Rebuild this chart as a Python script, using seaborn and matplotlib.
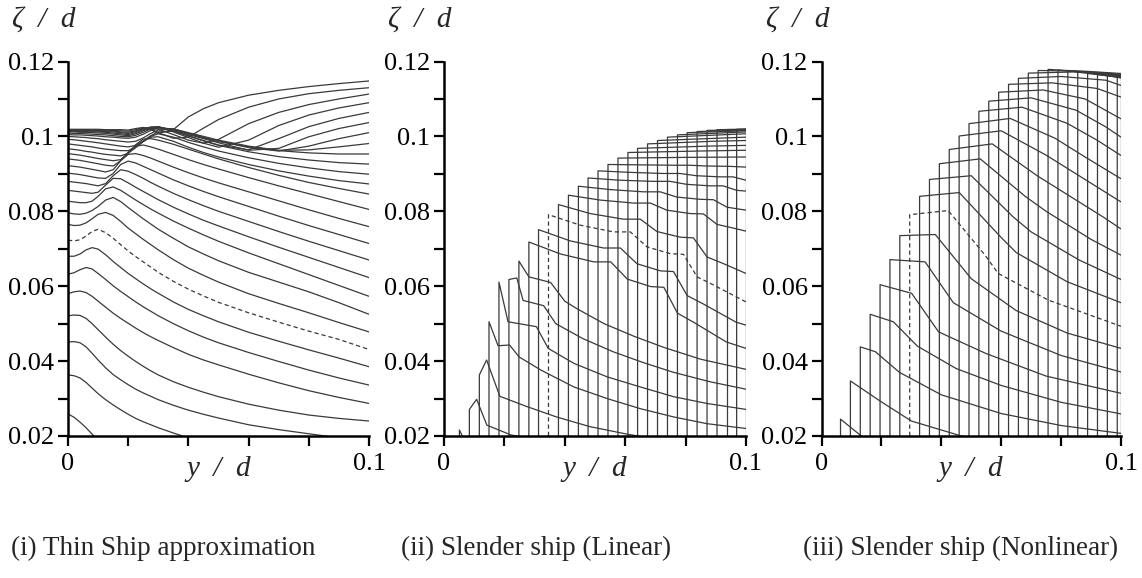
import numpy as np
import pandas as pd
import matplotlib
matplotlib.use("Agg")
import matplotlib.pyplot as plt
import seaborn as sns
from matplotlib.ticker import MultipleLocator, FixedLocator, FuncFormatter

# ---------------- data ----------------
Y_MIN, Y_MAX = 0.02, 0.12
X_MAX = 0.1

# (i) thin ship: shared y grid, one row per profile
THIN_Y = [0, .002, .004, .006, .008, .010, .0125, .015, .0175, .02, .0225, .025, .0275, .03,
          .035, .04, .045, .05, .06, .07, .08, .09, .1]
THIN_Z = [
    [.0259, .0250, .0237, .0222, .0205, .0190, .0175, .0160, .0150, .0140, .0132, .0125, .0120, .0115, .0110, .0105, .0102, .0100, .0095, .0090, .0085, .0080, .0075],
    [.0363, .0361, .0355, .0343, .0328, .0313, .0297, .0283, .0270, .0258, .0247, .0238, .0230, .0222, .0208, .0195, .0185, .0175, .0160, .0150, .0140, .0130, .0120],
    [.0451, .0452, .0449, .0438, .0421, .0403, .0382, .0364, .0350, .0337, .0325, .0315, .0306, .0297, .0282, .0269, .0258, .0248, .0230, .0217, .0206, .0195, .0185],
    [.0521, .0523, .0522, .0514, .0500, .0484, .0464, .0445, .0428, .0413, .0399, .0386, .0374, .0363, .0345, .0330, .0317, .0305, .0285, .0269, .0256, .0247, .0240],
    [.0580, .0585, .0587, .0583, .0573, .0560, .0544, .0528, .0514, .0501, .0488, .0476, .0465, .0455, .0436, .0418, .0403, .0390, .0365, .0342, .0321, .0303, .0287],
    [.0632, .0636, .0644, .0650, .0646, .0634, .0618, .0601, .0586, .0572, .0558, .0545, .0533, .0521, .0500, .0481, .0464, .0449, .0423, .0399, .0376, .0355, .0336],
    [.0680, .0680, .0686, .0697, .0703, .0699, .0684, .0666, .0650, .0634, .0620, .0606, .0593, .0581, .0558, .0538, .0521, .0505, .0477, .0453, .0430, .0408, .0385],
    [.0723, .0721, .0724, .0734, .0746, .0752, .0743, .0728, .0711, .0694, .0679, .0665, .0651, .0637, .0613, .0592, .0574, .0557, .0529, .0504, .0480, .0458, .0431],
    [.0765, .0762, .0763, .0769, .0780, .0792, .0797, .0789, .0773, .0755, .0740, .0725, .0711, .0697, .0671, .0648, .0629, .0611, .0580, .0554, .0529, .0503, .0478],
    [.0796, .0793, .0792, .0795, .0802, .0813, .0830, .0837, .0826, .0810, .0795, .0780, .0766, .0752, .0728, .0705, .0686, .0668, .0637, .0611, .0585, .0556, .0525],
    [.0827, .0825, .0823, .0823, .0827, .0840, .0860, .0865, .0856, .0843, .0830, .0818, .0806, .0795, .0774, .0755, .0737, .0720, .0689, .0660, .0631, .0602, .0573],
    [.0856, .0854, .0852, .0850, .0848, .0851, .0870, .0888, .0887, .0876, .0864, .0853, .0842, .0831, .0811, .0793, .0776, .0761, .0732, .0704, .0677, .0650, .0623],
    [.0880, .0878, .0876, .0874, .0871, .0868, .0874, .0895, .0911, .0907, .0898, .0888, .0877, .0867, .0848, .0831, .0815, .0800, .0773, .0746, .0720, .0695, .0670],
    [.0902, .0900, .0898, .0895, .0892, .0889, .0888, .0901, .0925, .0934, .0929, .0920, .0911, .0902, .0884, .0868, .0853, .0839, .0813, .0787, .0762, .0738, .0714],
    [.0922, .0920, .0918, .0915, .0912, .0909, .0905, .0911, .0935, .0952, .0954, .0949, .0942, .0934, .0918, .0903, .0889, .0876, .0852, .0828, .0804, .0781, .0759],
    [.0940, .0938, .0936, .0933, .0930, .0927, .0923, .0921, .0935, .0958, .0974, .0977, .0972, .0966, .0952, .0938, .0925, .0913, .0890, .0868, .0847, .0826, .0805],
    [.0954, .0952, .0950, .0947, .0944, .0941, .0938, .0935, .0938, .0955, .0978, .0993, .0994, .0990, .0979, .0966, .0953, .0940, .0917, .0896, .0877, .0861, .0846],
    [.0967, .0965, .0963, .0960, .0958, .0955, .0952, .0950, .0948, .0955, .0970, .0986, .0998, .0999, .0987, .0971, .0957, .0945, .0925, .0908, .0894, .0882, .0873],
    [.0980, .0978, .0976, .0974, .0972, .0969, .0966, .0964, .0962, .0962, .0972, .0987, .1000, .1007, .0998, .0984, .0972, .0961, .0943, .0928, .0916, .0906, .0899],
    [.0992, .0991, .0989, .0987, .0985, .0983, .0980, .0977, .0974, .0972, .0976, .0988, .1002, .1012, .1014, .1002, .0988, .0976, .0959, .0946, .0937, .0930, .0926],
    [.1000, .0999, .0998, .0997, .0995, .0994, .0991, .0989, .0987, .0985, .0987, .0996, .1008, .1017, .1020, .1008, .0996, .0986, .0972, .0962, .0956, .0953, .0953],
    [.1005, .1004, .1004, .1003, .1002, .1001, .0999, .0998, .0996, .0995, .0998, .1006, .1016, .1022, .1020, .1010, .1000, .0990, .0974, .0963, .0964, .0972, .0981],
    [.1009, .1008, .1008, .1007, .1006, .1005, .1004, .1002, .1000, .0999, .1003, .1011, .1020, .1024, .1019, .1008, .0998, .0988, .0970, .0961, .0974, .0994, .1010],
    [.1012, .1012, .1011, .1011, .1010, .1009, .1008, .1006, .1004, .1002, .1007, .1015, .1022, .1025, .1017, .1005, .0994, .0983, .0963, .0968, .0999, .1021, .1037],
    [.1014, .1014, .1013, .1013, .1012, .1012, .1011, .1009, .1007, .1005, .1010, .1018, .1024, .1026, .1015, .1001, .0989, .0977, .0964, .0994, .1026, .1048, .1064],
    [.1016, .1016, .1015, .1015, .1014, .1014, .1013, .1012, .1010, .1008, .1013, .1020, .1025, .1026, .1012, .0997, .0982, .0971, .0990, .1029, .1057, .1076, .1090],
    [.1017, .1017, .1017, .1016, .1016, .1016, .1015, .1014, .1012, .1011, .1015, .1022, .1024, .1019, .1005, .0990, .0982, .0992, .1034, .1064, .1085, .1100, .1113],
    [.1018, .1018, .1018, .1018, .1017, .1017, .1017, .1016, .1015, .1014, .1018, .1023, .1020, .1010, .0995, .0998, .1022, .1045, .1078, .1100, .1114, .1123, .1130],
    [.1019, .1019, .1019, .1019, .1019, .1019, .1018, .1018, .1018, .1017, .1021, .1024, .1018, .1008, .1018, .1052, .1074, .1090, .1110, .1123, .1133, .1141, .1148],
]
THIN_DASHED = 7

# (ii) slender ship, linear: each profile starts at the hull position (first y)
LIN_Y = [
    [.0051, .0062],
    [.0084, .0108, .0142, .0221, .0300],
    [.0117, .0141, .0185, .0273, .0372, .0483, .0606, .0750],
    [.0149, .0179, .0217, .0249, .0321, .0430, .0540, .0650, .0760, .0870, .1000],
    [.0182, .0212, .0306, .0345, .0430, .0540, .0650, .0760, .0870, .1000],
    [.0215, .0241, .0262, .0330, .0370, .0460, .0560, .0660, .0760, .0880, .1000],
    [.0248, .0281, .0353, .0400, .0440, .0530, .0630, .0730, .0850, .1000],
    [.0281, .0386, .0496, .0552, .0607, .0684, .0728, .0773, .0828, .0935, .1000],
    [.0313, .0418, .0528, .0584, .0639, .0716, .0760, .0805, .0860, .0967, .1000],
    [.0346, .0451, .0561, .0617, .0672, .0749, .0793, .0838, .0893, .1000],
    [.0379, .0484, .0594, .0650, .0705, .0782, .0826, .0871, .0926, .1000],
    [.0412, .0517, .0627, .0683, .0738, .0815, .0859, .0904, .0959, .1000],
    [.0445, .0550, .0660, .0716, .0771, .0848, .0892, .0937, .0992, .1000],
    [.0477, .0582, .0692, .0748, .0803, .0880, .0924, .0969, .1000],
    [.0510, .0615, .0725, .0781, .0836, .0913, .0957, .1000],
    [.0543, .0648, .0758, .0814, .0869, .0946, .1000],
    [.0576, .0800, .1000],
    [.0609, .0850, .1000],
    [.0641, .0870, .1000],
    [.0674, .0890, .1000],
    [.0707, .1000],
    [.0740, .1000],
    [.0773, .1000],
    [.0805, .1000],
    [.0838, .1000],
    [.0871, .1000],
    [.0904, .1000],
    [.0937, .1000],
    [.0969, .1000],
    [.1000],
]
LIN_Z = [
    [.0216, .0198],
    [.0271, .0298, .0229, .0203, .0190],
    [.0363, .0403, .0306, .0279, .0251, .0225, .0205, .0185],
    [.0505, .0441, .0443, .0411, .0376, .0331, .0300, .0273, .0251, .0233, .0220],
    [.0611, .0505, .0492, .0434, .0394, .0358, .0331, .0305, .0287, .0271],
    [.0618, .0622, .0562, .0548, .0500, .0460, .0425, .0396, .0370, .0345, .0325],
    [.0667, .0625, .0610, .0560, .0540, .0500, .0466, .0436, .0405, .0378],
    [.0718, .0686, .0665, .0665, .0619, .0599, .0597, .0528, .0503, .0451, .0434],
    [.0751, .0721, .0702, .0702, .0660, .0641, .0639, .0575, .0552, .0504, .0496],
    [.0791, .0763, .0745, .0745, .0705, .0687, .0685, .0625, .0603, .0558],
    [.0818, .0794, .0779, .0779, .0746, .0731, .0729, .0678, .0660, .0634],
    [.0843, .0830, .0822, .0822, .0803, .0794, .0793, .0765, .0755, .0747],
    [.0867, .0858, .0852, .0852, .0838, .0832, .0831, .0811, .0804, .0803],
    [.0889, .0883, .0880, .0880, .0872, .0868, .0868, .0856, .0854],
    [.0908, .0904, .0901, .0901, .0895, .0892, .0892, .0883],
    [.0925, .0924, .0923, .0923, .0921, .0920, .0918],
    [.0942, .0944, .0945],
    [.0957, .0961, .0963],
    [.0968, .0974, .0976],
    [.0980, .0987, .0989],
    [.0989, .0998],
    [.0998, .1007],
    [.1004, .1012],
    [.1010, .1015],
    [.1013, .1017],
    [.1016, .1018],
    [.1018, .1019],
    [.1019, .1019],
    [.1019, .1020],
    [.1020],
]
LIN_DASHED = 9

# (iii) slender ship, nonlinear
NON_Y = [
    [.00635, .0133, .0200],
    [.00965, .0200, .0300, .0467, .0600],
    [.01295, .0180, .0260, .0400, .0600, .0800, .1000],
    [.01625, .0240, .0320, .0450, .0600, .0800, .1000],
    [.01955, .0301, .0391, .0550, .0750, .1000],
    [.02285, .0346, .0440, .0600, .0800, .1000],
    [.02615, .0380, .0500, .0650, .0820, .1000],
    [.02945, .0423, .0546, .0590, .0757, .1000],
    [.03275, .0460, .0600, .0650, .0820, .1000],
    [.03605, .0500, .0640, .0700, .0860, .1000],
    [.03935, .0530, .0680, .0750, .0900, .1000],
    [.04265, .0570, .0720, .0800, .0940, .1000],
    [.04595, .0600, .0750, .0850, .1000],
    [.04925, .0630, .0780, .0880, .1000],
    [.05255, .0670, .0820, .0920, .1000],
    [.05585, .0700, .0850, .0950, .1000],
    [.05915, .0740, .0880, .1000],
    [.06245, .0770, .0920, .1000],
    [.06575, .0800, .0950, .1000],
    [.06905, .0840, .1000],
    [.07235, .0880, .1000],
    [.07565, .0900, .1000],
    [.07895, .0930, .1000],
    [.08225, .0960, .1000],
    [.08555, .1000],
    [.08885, .1000],
    [.09215, .1000],
    [.09545, .1000],
    [.09875, .1000],
    [.1000],
]
NON_Z = [
    [.0245, .0200, .0180],
    [.0347, .0291, .0240, .0200, .0180],
    [.0438, .0425, .0370, .0310, .0260, .0228, .0207],
    [.0525, .0505, .0440, .0380, .0335, .0290, .0259],
    [.0604, .0581, .0478, .0420, .0360, .0314],
    [.0671, .0665, .0556, .0480, .0415, .0371],
    [.0735, .0738, .0620, .0535, .0475, .0434],
    [.0791, .0802, .0683, .0634, .0563, .0493],
    [.0840, .0850, .0730, .0690, .0612, .0556],
    [.0885, .0895, .0785, .0745, .0670, .0618],
    [.0927, .0940, .0840, .0800, .0725, .0683],
    [.0965, .0980, .0895, .0855, .0785, .0753],
    [.1001, .1015, .0950, .0900, .0825],
    [.1034, .1048, .0995, .0945, .0887],
    [.1067, .1078, .1035, .0990, .0949],
    [.1094, .1103, .1070, .1025, .0998],
    [.1118, .1124, .1100, .1047],
    [.1139, .1143, .1128, .1105],
    [.1155, .1160, .1150, .1136],
    [.1169, .1172, .1163],
    [.1176, .1174, .1168],
    [.1179, .1172, .1166],
    [.1177, .1168, .1164],
    [.1176, .1166, .1162],
    [.1172, .1160],
    [.1168, .1158],
    [.1165, .1157],
    [.1163, .1156],
    [.1160, .1158],
    [.1158],
]
NON_DASHED = 7

CAPTIONS = ["(i) Thin Ship approximation", "(ii) Slender ship (Linear)", "(iii) Slender ship (Nonlinear)"]
Y_LABEL = "ζ  /  d"
X_LABEL = "y  /  d"

# ---------------- build long tables ----------------
def thin_frame():
    rows = []
    for i, zs in enumerate(THIN_Z):
        kind = "dashed" if i == THIN_DASHED else "solid"
        for yv, zv in zip(THIN_Y, zs):
            rows.append((yv, zv, i, kind))
    return pd.DataFrame(rows, columns=["y", "z", "curve", "kind"])


def slender_frame(ys, zs, dashed):
    rows = []
    for i, (yl, zl) in enumerate(zip(ys, zs)):
        kind = "dashed" if i == dashed else "solid"
        # vertical hull line from the bottom of the axis up to the first value
        rows.append((yl[0], Y_MIN, i, kind))
        for yv, zv in zip(yl, zl):
            rows.append((yv, zv, i, kind))
    return pd.DataFrame(rows, columns=["y", "z", "curve", "kind"])


frames = [thin_frame(), slender_frame(LIN_Y, LIN_Z, LIN_DASHED), slender_frame(NON_Y, NON_Z, NON_DASHED)]

# ---------------- figure ----------------
sns.set_theme(style="ticks")
plt.rcParams["font.family"] = ["Liberation Serif", "DejaVu Serif"]

W, H = 1142, 578
fig = plt.figure(figsize=(W / 100, H / 100), dpi=100)

LINE_COLOR = "#3a3a3a"
ax_left_px = [68, 444, 821.5]
ax_width_px = [301, 302, 299.5]
ax_bottom_px = 436
ax_top_px = 61.5
caption_x_px = [163, 536, 961]

for k in range(3):
    l = ax_left_px[k] / W
    b = (H - ax_bottom_px) / H
    w = ax_width_px[k] / W
    h = (ax_bottom_px - ax_top_px) / H
    ax = fig.add_axes([l, b, w, h])
    sns.lineplot(
        data=frames[k], x="y", y="z", units="curve", estimator=None, sort=False,
        style="kind", style_order=["solid", "dashed"],
        dashes={"solid": "", "dashed": (3.4, 2.4)},
        color=LINE_COLOR, linewidth=0.9, legend=False, ax=ax,
    )
    ax.set_xlim(0, X_MAX)
    ax.set_ylim(Y_MIN, Y_MAX)
    ax.set_xlabel("")
    ax.set_ylabel("")
    sns.despine(ax=ax)
    for s in ("left", "bottom"):
        ax.spines[s].set_linewidth(1.8)
        ax.spines[s].set_color("black")
    ax.yaxis.set_major_locator(MultipleLocator(0.02))
    ax.yaxis.set_minor_locator(MultipleLocator(0.01))
    ax.yaxis.set_major_formatter(FuncFormatter(lambda v, p: f"{v:g}"))
    ax.xaxis.set_major_locator(FixedLocator([0, 0.1]))
    ax.xaxis.set_minor_locator(FixedLocator([0.02, 0.04, 0.06, 0.08]))
    ax.xaxis.set_major_formatter(FuncFormatter(lambda v, p: f"{v:g}"))
    ax.tick_params(axis="both", which="both", direction="out", length=7, width=1.6,
                   color="black", labelsize=19, labelcolor="black")
    ax.tick_params(axis="y", which="major", pad=3)
    ax.tick_params(axis="x", which="major", pad=5)
    ax.set_facecolor("white")
    ax.annotate(Y_LABEL, xy=(0, 1), xycoords="axes fraction", xytext=(-56, 42),
                textcoords="offset pixels", ha="left", va="center",
                fontsize=21, style="italic")
    ax.annotate(X_LABEL, xy=(0.5, 0), xycoords="axes fraction", xytext=(0, -33),
                textcoords="offset pixels", ha="center", va="center",
                fontsize=21, style="italic")
    fig.text(caption_x_px[k] / W, (H - 548) / H, CAPTIONS[k], ha="center", va="center",
             fontsize=19.5)

fig.savefig("out.png", dpi=100, facecolor="white")
